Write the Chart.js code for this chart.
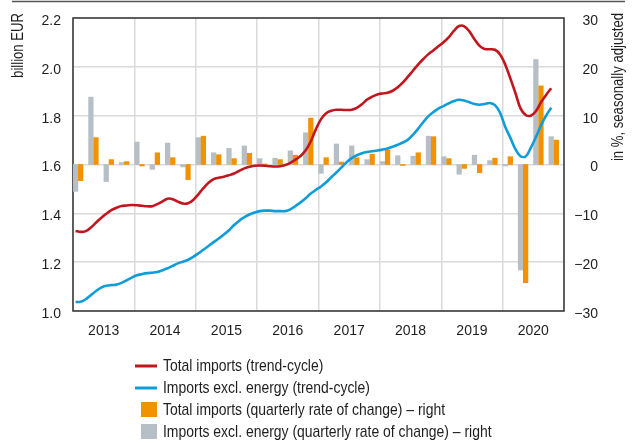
<!DOCTYPE html>
<html>
<head>
<meta charset="utf-8">
<script src="https://cdn.jsdelivr.net/npm/chart.js@4"></script>
<style>
  html, body { margin: 0; padding: 0; background: #fff; }
  #wrap { position: relative; width: 638px; height: 443px; }
</style>
</head>
<body>
<div id="wrap"><canvas id="c" width="638" height="443"></canvas></div>
<script>
// ---------- data ----------
const years = ['2013', '2014', '2015', '2016', '2017', '2018', '2019', '2020'];

// monthly trend-cycle, billion EUR (Jan 2013 – Oct 2020)
const totalImportsTrend = [
  1.328, 1.324, 1.327, 1.342, 1.362, 1.381, 1.398, 1.413, 1.423, 1.430, 1.432, 1.434,
  1.433, 1.431, 1.429, 1.429, 1.438, 1.449, 1.460, 1.458, 1.448, 1.440, 1.441, 1.455,
  1.478, 1.503, 1.525, 1.540, 1.546, 1.550, 1.556, 1.563, 1.574, 1.584, 1.591, 1.595,
  1.596, 1.595, 1.593, 1.592, 1.593, 1.598, 1.607, 1.620, 1.635, 1.658, 1.695, 1.745,
  1.786, 1.810, 1.820, 1.824, 1.824, 1.823, 1.824, 1.832, 1.847, 1.866, 1.878, 1.887,
  1.891, 1.894, 1.902, 1.916, 1.936, 1.960, 1.985, 2.010, 2.032, 2.052, 2.068, 2.085,
  2.102, 2.122, 2.148, 2.167, 2.166, 2.145, 2.113, 2.086, 2.073, 2.072, 2.070, 2.051,
  2.010, 1.953, 1.893, 1.830, 1.803, 1.800, 1.818, 1.855, 1.885, 1.912
];
const exclEnergyTrend = [
  1.037, 1.038, 1.048, 1.065, 1.082, 1.096, 1.103, 1.106, 1.108, 1.115, 1.126, 1.137,
  1.146, 1.151, 1.155, 1.157, 1.160, 1.167, 1.175, 1.185, 1.195, 1.202, 1.210, 1.222,
  1.236, 1.251, 1.266, 1.282, 1.297, 1.313, 1.331, 1.352, 1.370, 1.384, 1.395, 1.403,
  1.409, 1.411, 1.411, 1.409, 1.409, 1.409, 1.416, 1.430, 1.445, 1.462, 1.481, 1.496,
  1.510, 1.527, 1.548, 1.567, 1.588, 1.609, 1.626, 1.638, 1.646, 1.651, 1.654, 1.657,
  1.661, 1.666, 1.673, 1.681, 1.690, 1.702, 1.722, 1.747, 1.774, 1.798, 1.815, 1.830,
  1.840, 1.851, 1.860, 1.865, 1.862, 1.855, 1.848, 1.845, 1.848, 1.852, 1.843, 1.812,
  1.755, 1.710, 1.663, 1.634, 1.633, 1.668, 1.712, 1.760, 1.800, 1.833
];

// quarterly rate of change, % (2013Q1 – 2020Q4)
const totalImportsQoQ = [
  -3.3, 5.5, 1.0, 0.6,
  -0.3, 2.4, 1.4, -3.1,
  5.8, 2.0, 1.2, 2.3,
  0.1, 1.0, 1.9, 9.5,
  1.4, 0.5, 1.4, 2.1,
  3.0, -0.2, 2.4, 5.7,
  1.2, -0.8, -1.7, 1.3,
  1.6, -24.2, 16.1, 5.0
];
const exclEnergyQoQ = [
  -5.5, 13.8, -3.5, 0.4,
  4.6, -1.0, 4.4, -0.5,
  5.5, 2.4, 3.3, 3.8,
  1.2, 1.3, 2.8, 6.5,
  -1.8, 4.2, 3.8, 1.0,
  0.6, 1.8, 1.7, 5.8,
  1.6, -2.0, 1.9, 0.8,
  -0.3, -21.6, 21.5, 5.7
];

const leftTicks = [1.0, 1.2, 1.4, 1.6, 1.8, 2.0, 2.2];
const rightTicks = [-30, -20, -10, 0, 10, 20, 30];

const seriesLabels = [
  'Total imports (trend-cycle)',
  'Imports excl. energy (trend-cycle)',
  'Total imports (quarterly rate of change) – right',
  'Imports excl. energy (quarterly rate of change) – right'
];
const leftTitle = 'billion EUR';
const rightTitle = 'in %, seasonally adjusted';

// ---------- styling ----------
const RED = '#c1161d', BLUE = '#0f9cd8', ORANGE = '#f39200', GREY = '#b7bfc6';
const GRID = '#dadada', TEXT = '#1e1e1e';
const FAMILY = '"Liberation Sans", Arial, sans-serif';
const TICK_FONT = { family: FAMILY, size: 14, lineHeight: '6px' };
const NARROW_X = 0.82; // horizontal condensing for the narrow face

const monthPts = arr => arr.map((v, i) => ({ x: i + 0.5, y: v }));
const quarterPts = (arr, off) => arr.map((v, q) => ({ x: q * 3 + off, y: v }));

function narrowText(ctx, text, x, y, rot) {
  ctx.save();
  ctx.translate(x, y);
  if (rot) ctx.rotate(rot);
  ctx.scale(NARROW_X, 1);
  ctx.fillText(text, 0, 0);
  ctx.restore();
}

const frame = {
  id: 'frame',
  beforeDatasetsDraw(chart) {
    const { ctx, chartArea: a } = chart;
    ctx.save();
    ctx.strokeStyle = '#333';
    ctx.lineWidth = 1.5;
    ctx.strokeRect(a.left, a.top, a.right - a.left, a.bottom - a.top);
    ctx.restore();
  },
  afterDraw(chart) {
    const { ctx } = chart;
    ctx.save();
    // top rule
    ctx.strokeStyle = '#555';
    ctx.lineWidth = 1.5;
    ctx.beginPath(); ctx.moveTo(12, 1.5); ctx.lineTo(625, 1.5); ctx.stroke();
    // axis titles
    ctx.fillStyle = TEXT;
    ctx.font = '16px ' + FAMILY;
    ctx.textAlign = 'right';
    ctx.textBaseline = 'middle';
    narrowText(ctx, leftTitle, 19, 13, -Math.PI / 2);
    narrowText(ctx, rightTitle, 619, 13, -Math.PI / 2);
    // legend
    const rowY = [366, 388, 410, 432];
    ctx.font = '17px ' + FAMILY;
    ctx.textAlign = 'left';
    [0, 1, 2, 3].forEach((di, r) => {
      const ds = chart.data.datasets[di];
      const y = rowY[r];
      if (ds.type === 'line') {
        ctx.strokeStyle = ds.borderColor;
        ctx.lineWidth = 3;
        ctx.beginPath(); ctx.moveTo(135, y); ctx.lineTo(157, y); ctx.stroke();
      } else {
        ctx.fillStyle = ds.backgroundColor;
        ctx.fillRect(141, y - 8, 16, 15);
      }
      ctx.fillStyle = TEXT;
      narrowText(ctx, ds.label, 163, y + 0.5, 0);
    });
    ctx.restore();
  }
};

new Chart(document.getElementById('c'), {
  type: 'line',
  data: {
    datasets: [
      { type: 'line', label: seriesLabels[0], data: monthPts(totalImportsTrend), yAxisID: 'y',
        borderColor: RED, borderWidth: 2.6, pointRadius: 0, tension: 0.35, order: 0 },
      { type: 'line', label: seriesLabels[1], data: monthPts(exclEnergyTrend), yAxisID: 'y',
        borderColor: BLUE, borderWidth: 2.6, pointRadius: 0, tension: 0.35, order: 0 },
      { type: 'bar', label: seriesLabels[2], data: quarterPts(totalImportsQoQ, 1.5), yAxisID: 'y2',
        backgroundColor: ORANGE, barThickness: 4.6, grouped: false, order: 1 },
      { type: 'bar', label: seriesLabels[3], data: quarterPts(exclEnergyQoQ, 0.5), yAxisID: 'y2',
        backgroundColor: GREY, barThickness: 4.6, grouped: false, order: 2 }
    ]
  },
  options: {
    responsive: false,
    animation: false,
    events: [],
    layout: { padding: { top: 15, left: 0, right: 40, bottom: 0 } },
    plugins: { legend: { display: false }, tooltip: { enabled: false } },
    scales: {
      x: {
        type: 'linear', min: 0, max: years.length * 12, offset: false,
        afterBuildTicks: s => { s.ticks = []; for (let m = 0; m <= years.length * 12; m += 6) s.ticks.push({ value: m }); },
        afterFit: s => { s.height = 132; },
        border: { display: false },
        grid: { offset: false, drawTicks: false, lineWidth: 1.5,
          color: c => (c.tick && c.tick.value % 12 === 0) ? GRID : 'rgba(0,0,0,0)' },
        ticks: { padding: 12, color: TEXT, font: { family: FAMILY, size: 14 }, maxRotation: 0, autoSkip: false,
          callback: v => (v % 12 === 6) ? years[(v - 6) / 12] : '' }
      },
      y: {
        position: 'left', min: leftTicks[0], max: leftTicks[leftTicks.length - 1],
        afterBuildTicks: s => { s.ticks = leftTicks.map(v => ({ value: v })); },
        afterFit: s => { s.width = 73; },
        border: { display: false },
        grid: { color: GRID, lineWidth: 1.5, drawTicks: false },
        ticks: { padding: 12, color: TEXT, font: TICK_FONT, callback: v => ['', v.toFixed(1)] }
      },
      y2: {
        position: 'right', min: rightTicks[0], max: rightTicks[rightTicks.length - 1],
        afterBuildTicks: s => { s.ticks = rightTicks.map(v => ({ value: v })); },
        afterFit: s => { s.width = 34; },
        border: { display: false },
        grid: { display: false, drawTicks: false },
        ticks: { crossAlign: 'far', padding: 8, color: TEXT, font: TICK_FONT,
          callback: v => ['', (v < 0 ? '\u2212' + Math.abs(v) : String(v))] }
      }
    }
  },
  plugins: [frame]
});
</script>
</body>
</html>
